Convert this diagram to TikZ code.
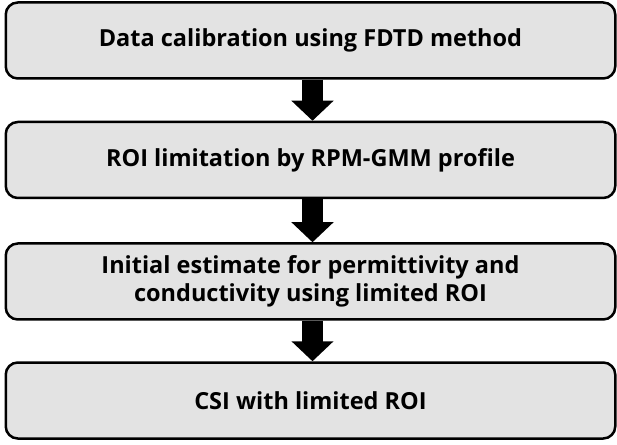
\documentclass[tikz,border=0pt]{standalone}
\usepackage{fontspec}
\setmainfont{Open Sans}
\usetikzlibrary{arrows.meta}
\definecolor{boxfill}{RGB}{227,227,227}
\begin{document}
\begin{tikzpicture}[x=1pt,y=1pt,
  stepbox/.style={draw=black, line width=2.5pt, fill=boxfill, rounded corners=12pt,
    minimum width=609.5pt, minimum height=76pt, inner sep=0pt, align=center,
    font=\fontsize{23.5}{28}\selectfont\bfseries},
  bigarrow/.style={line width=21pt, -{Triangle[width=41pt,length=20pt]}}]
\useasboundingbox (0,0) rectangle (617,444);
\node[stepbox] (b1) at (310.5,403.5) {Data calibration using FDTD method};
\node[stepbox] (b2) at (310.5,284) {ROI limitation by RPM-GMM profile};
\node[stepbox] (b3) at (310.5,162.5) {Initial estimate for permittivity and\\conductivity using limited ROI};
\node[stepbox] (b4) at (310.5,43.5) {CSI with limited ROI};
\draw[bigarrow] ([xshift=2pt]b1.south) -- ([xshift=2pt]b2.north);
\draw[bigarrow] ([xshift=2pt]b2.south) -- ([xshift=2pt]b3.north);
\draw[bigarrow] ([xshift=2pt]b3.south) -- ([xshift=2pt]b4.north);
\end{tikzpicture}
\end{document}
